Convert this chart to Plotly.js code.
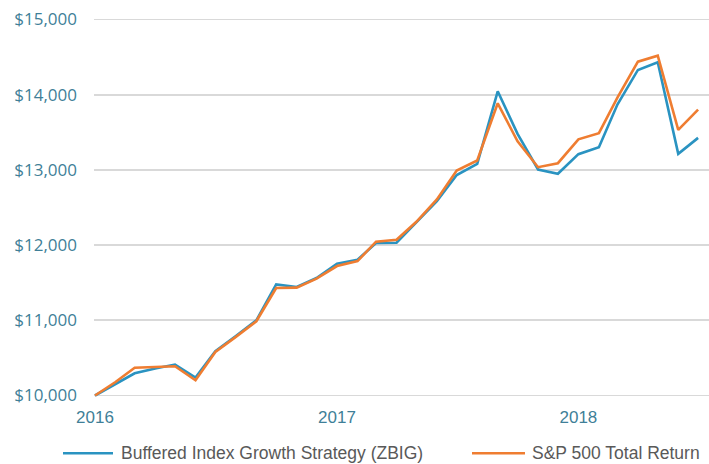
<!DOCTYPE html>
<html>
<head>
<meta charset="utf-8">
<script src="https://cdn.plot.ly/plotly-3.0.1.min.js"></script>
<style>
  html, body { margin: 0; padding: 0; background: #ffffff; }
  #chart { width: 709px; height: 464px; }
</style>
</head>
<body>
<div id="chart"></div>
<script>
// Month-end observations (plotted at month positions)
const dates = [
  '2016-01-01','2016-02-01','2016-03-01','2016-04-01','2016-05-01','2016-06-01',
  '2016-07-01','2016-08-01','2016-09-01','2016-10-01','2016-11-01','2016-12-01',
  '2017-01-01','2017-02-01','2017-03-01','2017-04-01','2017-05-01','2017-06-01',
  '2017-07-01','2017-08-01','2017-09-01','2017-10-01','2017-11-01','2017-12-01',
  '2018-01-01','2018-02-01','2018-03-01','2018-04-01','2018-05-01','2018-06-01',
  '2018-07-01'
];

const zbigValues = [
  10000, 10150, 10295, 10360, 10411, 10239,
  10588, 10790, 11000, 11478, 11443, 11562,
  11753, 11806, 12027, 12032, 12305, 12585,
  12932, 13081, 14045, 13479, 13005, 12948,
  13209, 13302, 13870, 14329, 14431, 13214,
  13426
];

const sp500Values = [
  10000, 10180, 10370, 10380, 10389, 10203,
  10579, 10780, 10987, 11429, 11434, 11554,
  11721, 11787, 12045, 12072, 12310, 12607,
  12992, 13125, 13886, 13381, 13036, 13089,
  13406, 13488, 13960, 14439, 14519, 13532,
  13802
];

const seriesNames = ['Buffered Index Growth Strategy (ZBIG)', 'S&P 500 Total Return'];
const seriesColors = ['#2a93c1', '#ef7d31'];
const yTickVals = [10000, 11000, 12000, 13000, 14000, 15000];
const yTickText = ['$10,000', '$11,000', '$12,000', '$13,000', '$14,000', '$15,000'];
const xTickVals = ['2016-01-01', '2017-01-01', '2018-01-01'];
const xTickText = ['2016', '2017', '2018'];

const traces = [
  {
    x: dates, y: zbigValues, name: seriesNames[0],
    type: 'scatter', mode: 'lines',
    line: { color: seriesColors[0], width: 2.6 },
    hoverinfo: 'skip'
  },
  {
    x: dates, y: sp500Values, name: seriesNames[1],
    type: 'scatter', mode: 'lines',
    line: { color: seriesColors[1], width: 2.6 },
    hoverinfo: 'skip'
  }
];

// Legend drawn below the plot (paper coordinates relative to plot area 94..709 px, 17.8..396.8 px)
const L = 94, W = 615, T = 17.8, H = 379;
const px = v => (v - L) / W;
const py = v => (T + H - v) / H;
const legendY = 453;
const legendItems = [
  { x0: 63, x1: 113, tx: 119 },
  { x0: 472, x1: 525, tx: 530 }
];
const shapes = legendItems.map((it, i) => ({
  type: 'line', xref: 'paper', yref: 'paper',
  x0: px(it.x0), x1: px(it.x1), y0: py(legendY), y1: py(legendY),
  line: { color: seriesColors[i], width: 2.6 }
}));
const annotations = legendItems.map((it, i) => ({
  xref: 'paper', yref: 'paper', x: px(it.tx), y: py(legendY),
  xanchor: 'left', yanchor: 'middle', showarrow: false,
  text: seriesNames[i].replace('&', '&amp;'),
  font: { family: 'Liberation Sans, Arial, sans-serif', size: 17.5, color: '#595959' }
}));

const layout = {
  width: 709, height: 464,
  margin: { l: 94, r: 0, t: 18, b: 67, pad: 0 },
  paper_bgcolor: '#ffffff',
  plot_bgcolor: '#ffffff',
  showlegend: false,
  xaxis: {
    type: 'date',
    range: ['2015-12-30 12:00', '2018-07-17 12:00'],
    tickvals: xTickVals,
    ticktext: xTickText,
    showgrid: false,
    zeroline: false,
    showline: false,
    ticks: '',
    ticklabelstandoff: 8,
    tickfont: { family: 'Liberation Sans, Arial, sans-serif', size: 17, color: '#3f7f98' },
    fixedrange: true
  },
  yaxis: {
    range: [9980, 15020],
    tickvals: yTickVals,
    ticktext: yTickText,
    showgrid: true,
    gridcolor: '#d9d9d9',
    gridwidth: 1.6,
    zeroline: false,
    showline: false,
    ticks: '',
    ticklabelstandoff: 16,
    tickfont: { family: 'Open Sans, sans-serif', size: 17, color: '#3f7f98' },
    fixedrange: true
  },
  shapes: shapes,
  annotations: annotations
};

Plotly.newPlot('chart', traces, layout, { displayModeBar: false, staticPlot: true });
</script>
</body>
</html>
